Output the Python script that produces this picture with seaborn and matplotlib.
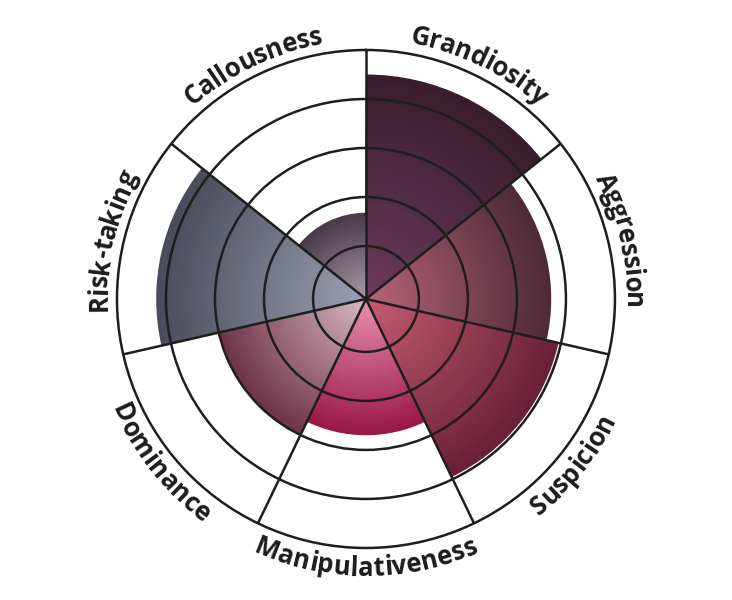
import numpy as np
import matplotlib.pyplot as plt
import seaborn as sns
from matplotlib.font_manager import FontProperties

# traits clockwise from the top
traits = ['Grandiosity', 'Aggression', 'Suspicion', 'Manipulativeness',
          'Dominance', 'Risk-taking', 'Callousness']
scores = [4.5, 3.7, 3.95, 2.7, 3.0, 4.2, 1.68]
inner_colors = ['#6b3b5b', '#b86478', '#c45c72', '#e890b0', '#d8b8c0', '#9ca0b0', '#a89aa8']
outer_colors = ['#3a1d2c', '#4e2a38', '#6a2038', '#9a1848', '#6e3448', '#4a4c5c', '#4a3a48']
rings = [1, 2, 3, 4]
r_min, r_max = -0.08, 5

sns.set_style('white')
plt.rcParams['font.family'] = ['Open Sans', 'DejaVu Sans']

fig = plt.figure(figsize=(7.32, 6.0), dpi=100)
ax = fig.add_axes([0.1598, 0.0867, 0.6803, 0.83], projection='polar')
ax.set_theta_zero_location('N')
ax.set_theta_direction(-1)

n = len(traits)
width = 2 * np.pi / n
centers = np.arange(n) * width + width / 2

# radial gradient: nested wedges, darkest (full length) first, lighter ones on top
steps = 90
for k in range(n):
    pal = sns.blend_palette([inner_colors[k], outer_colors[k]], steps)
    tops = np.linspace(scores[k], r_min, steps, endpoint=False)
    for j, t in enumerate(tops):
        ax.bar(centers[k], t - r_min, bottom=r_min, width=width,
               color=pal[steps - 1 - j], linewidth=0)

ax.set_ylim(r_min, r_max)
ax.set_xticks(np.arange(n) * width)
ax.set_xticklabels([])
ax.set_yticks(rings)
ax.set_yticklabels([])
ax.grid(True, color='#1e1e1e', linewidth=1.8)
ax.spines['polar'].set_color('#1e1e1e')
ax.spines['polar'].set_linewidth(1.8)
ax.set_axisbelow(False)

# curved labels round the outer ring
fp = FontProperties(family='Open Sans', weight='bold', size=18.5)
renderer = fig.canvas.get_renderer()
ppu = ax.get_window_extent(renderer).width / 2 / (r_max - r_min)


def text_w(s):
    if not s:
        return 0
    return renderer.get_text_width_height_descent(s, fp, ismath=False)[0]


for k, name in enumerate(traits):
    top = np.cos(centers[k]) > 0
    r_base = 259 if top else 277
    r_mid = r_base + 7 if top else r_base - 7
    total = text_w(name)
    for i, ch in enumerate(name):
        mid = (text_w(name[:i]) + text_w(name[:i + 1])) / 2 - total / 2
        dth = mid / r_mid
        th = centers[k] + dth if top else centers[k] - dth
        rot = -np.degrees(th) if top else 180 - np.degrees(th)
        ax.text(th, r_base / ppu + r_min, ch, fontproperties=fp, rotation=rot,
                rotation_mode='anchor', ha='center', va='baseline', color='#1c1c1c')

fig.savefig('out.png', dpi=100)
